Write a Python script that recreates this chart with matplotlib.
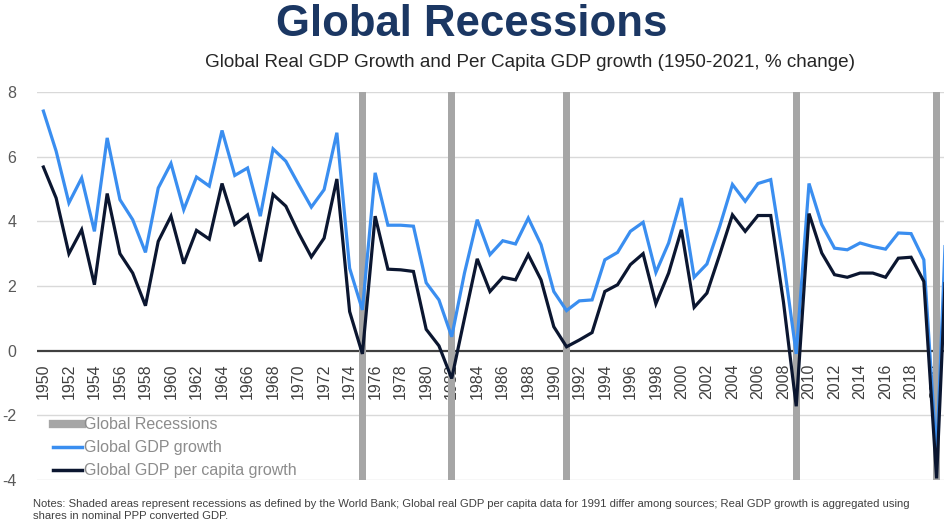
import matplotlib
matplotlib.use('Agg')
import matplotlib.pyplot as plt
from matplotlib.lines import Line2D

plt.rcParams['font.family'] = ['Liberation Sans', 'DejaVu Sans']
plt.rcParams['axes.unicode_minus'] = False

years = list(range(1950, 2022))
gdp_growth = [7.41, 6.17, 4.57, 5.34, 3.69, 6.58, 4.67, 4.05, 3.04, 5.03,
              5.79, 4.36, 5.37, 5.09, 6.81, 5.42, 5.65, 4.16, 6.24, 5.86,
              5.14, 4.44, 4.98, 6.74, 2.55, 1.26, 5.50, 3.88, 3.88, 3.85,
              2.10, 1.57, 0.43, 2.40, 4.05, 2.97, 3.40, 3.30, 4.10, 3.28,
              1.83, 1.24, 1.54, 1.57, 2.81, 3.04, 3.69, 3.97, 2.42, 3.33,
              4.72, 2.27, 2.68, 3.84, 5.14, 4.62, 5.17, 5.29, 2.80, -0.10,
              5.17, 3.90, 3.17, 3.12, 3.33, 3.22, 3.14, 3.64, 3.62, 2.81,
              -3.30, 6.60]
gdp_pc_growth = [5.68, 4.72, 3.00, 3.74, 2.04, 4.86, 3.00, 2.40, 1.39, 3.38,
                 4.16, 2.69, 3.72, 3.45, 5.17, 3.90, 4.20, 2.76, 4.83, 4.47,
                 3.64, 2.90, 3.48, 5.31, 1.21, -0.10, 4.16, 2.52, 2.50, 2.45,
                 0.66, 0.15, -0.86, 1.00, 2.84, 1.83, 2.27, 2.19, 2.97, 2.19,
                 0.74, 0.12, 0.33, 0.56, 1.83, 2.04, 2.66, 3.00, 1.45, 2.40,
                 3.74, 1.34, 1.78, 2.97, 4.20, 3.69, 4.18, 4.18, 1.50, -1.72,
                 4.24, 3.02, 2.35, 2.27, 2.40, 2.40, 2.27, 2.86, 2.89, 2.14,
                 -3.95, 5.20]
recession_years = [1975, 1982, 1991, 2009, 2020]
tick_years = list(range(1950, 2021, 2))
y_ticks = [-4, -2, 0, 2, 4, 6, 8]

blue = '#3a8ef0'
navy = '#0b1630'
grey_bar = '#a6a6a6'

fig = plt.figure(figsize=(9.44, 5.23), dpi=100)
ax = fig.add_axes([37 / 944, 1 - 480 / 523, 1 - 37 / 944, 388 / 523])

ax.set_xlim(1949.5, 2020.58)
ax.set_ylim(-4, 8)

# gridlines + zero line
for v in y_ticks:
    if v != 0:
        ax.axhline(v, color='#d9d9d9', lw=1, zorder=0)
ax.axhline(0, color='#404040', lw=1.6, zorder=1)

# year labels sit inside the plot, under the recession bars
for yr in tick_years:
    ax.text(yr, -0.4, str(yr), rotation=90, ha='center', va='top',
            fontsize=11.5, color='#404040', zorder=2)

ax.bar(recession_years, 12, bottom=-4, width=0.55, color=grey_bar, zorder=3)

ax.plot(years, gdp_growth, color=blue, lw=2.3, zorder=4, solid_joinstyle='miter')
ax.plot(years, gdp_pc_growth, color=navy, lw=2.3, zorder=5, solid_joinstyle='miter')

ax.set_yticks(y_ticks)
ax.set_xticks([])
ax.tick_params(axis='y', length=0, pad=15, labelsize=11.5, labelcolor='#595959')
for s in ax.spines.values():
    s.set_visible(False)

handles = [Line2D([0], [0], color=grey_bar, lw=6),
           Line2D([0], [0], color=blue, lw=2.5),
           Line2D([0], [0], color=navy, lw=2.5)]
labels = ['Global Recessions', 'Global GDP growth', 'Global GDP per capita growth']
leg = ax.legend(handles, labels, loc='lower left', bbox_to_anchor=(0.011, -0.012),
                frameon=False, fontsize=11.5, handlelength=1.8, handletextpad=0.1,
                labelspacing=0.5, borderaxespad=0.0)
for t in leg.get_texts():
    t.set_color('#8c8c8c')
leg.set_zorder(6)

fig.text(0.5, 1 - 24 / 523, 'Global Recessions', ha='center', va='center',
         fontsize=31.5, fontweight='bold', color='#1b3763')
fig.text(0.5614, 1 - 62 / 523,
         'Global Real GDP Growth and Per Capita GDP growth (1950-2021, % change)',
         ha='center', va='center', fontsize=13.6, color='#262626')
fig.text(33 / 944, 1 - 499 / 523,
         'Notes: Shaded areas represent recessions as defined by the World Bank; '
         'Global real GDP per capita data for 1991 differ among sources; '
         'Real GDP growth is aggregated using\nshares in nominal PPP converted GDP.',
         ha='left', va='top', fontsize=8.1, color='#404040', linespacing=1.2)

fig.savefig('out.png', dpi=100)
